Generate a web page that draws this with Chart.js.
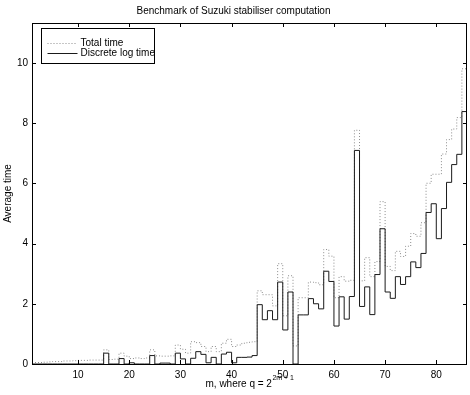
<!DOCTYPE html>
<html>
<head>
<meta charset="utf-8">
<title>Benchmark of Suzuki stabiliser computation</title>
<script src="https://cdn.jsdelivr.net/npm/chart.js@4/dist/chart.umd.min.js"></script>
<style>
    html, body { margin: 0; padding: 0; background: #fff; }
    #benchChart { display: block; }
</style>
</head>
<body>
<canvas id="benchChart" width="470" height="395"></canvas>
<script>
'use strict';

// m values, q = 2^(2m + 1)
var mValues = [];
for (var i = 1; i <= 86; i++) {
    mValues.push(i);
}

// Average total time per m (dotted stairs)
var totalTime = [
    0.05, 0.05, 0.06, 0.07, 0.08, 0.08, 0.10, 0.10, 0.11, 0.12,
    0.12, 0.13, 0.13, 0.13, 0.47, 0.15, 0.16, 0.36, 0.26, 0.18,
    0.20, 0.18, 0.20, 0.47, 0.27, 0.26, 0.26, 0.27, 0.63, 0.49,
    0.36, 0.74, 0.71, 0.58, 0.41, 0.58, 0.41, 0.69, 0.82, 0.58,
    0.63, 0.69, 0.72, 0.74, 2.43, 2.30, 2.30, 1.93, 3.33, 1.60,
    2.93, 0.60, 2.20, 2.20, 2.72, 2.70, 2.63, 3.80, 3.58, 2.20,
    2.90, 2.75, 2.78, 7.76, 2.76, 3.53, 2.90, 3.40, 5.39, 3.24,
    3.10, 3.74, 3.57, 3.91, 4.33, 4.24, 4.69, 6.00, 6.30, 6.30,
    6.97, 7.45, 7.80, 8.18, 9.80, 9.80
];

// Average discrete log time per m (solid stairs)
var discreteLogTime = [
    0, 0, 0, 0, 0, 0, 0, 0, 0, 0,
    0, 0, 0, 0, 0.36, 0, 0, 0.18, 0, 0.04,
    0, 0, 0, 0.28, 0, 0.03, 0.03, 0, 0.36, 0.17,
    0, 0.19, 0.41, 0.32, 0.04, 0.22, 0, 0.33, 0.39, 0.04,
    0.22, 0.22, 0.23, 0.28, 1.97, 1.47, 1.77, 1.47, 2.72, 1.13,
    2.39, 0, 1.63, 1.63, 2.17, 2.00, 1.83, 3.08, 2.74, 1.26,
    2.23, 1.49, 2.24, 7.09, 1.91, 2.56, 1.64, 2.97, 4.49, 2.39,
    2.18, 2.90, 2.64, 2.90, 3.39, 3.20, 3.67, 5.03, 5.32, 4.16,
    5.16, 6.03, 6.62, 6.96, 8.38, 8.38
];

var xTicks = [10, 20, 30, 40, 50, 60, 70, 80];
var yTicks = [0, 2, 4, 6, 8, 10];
var seriesLabels = ['Total time', 'Discrete log time'];

var FONT = '"Liberation Sans", Arial, Helvetica, sans-serif';

/**
 * Chart module
 */
var BenchChart = {

    /**
     * Turn two arrays into {x, y} points
     */
    toPoints: function(xs, ys) {
        return xs.map(function(x, idx) {
            return {x: x, y: ys[idx]};
        });
    },

    /**
     * Box round the plot with inward ticks on all four sides
     */
    boxPlugin: {
        id: 'matlabBox',
        afterDraw: function(chart) {
            var ctx = chart.ctx;
            var a = chart.chartArea;
            var xs = chart.scales.x;
            var ys = chart.scales.y;
            var len = 4;
            ctx.save();
            ctx.strokeStyle = '#000';
            ctx.lineWidth = 1;
            ctx.strokeRect(a.left + 0.5, a.top + 0.5, a.right - a.left - 1, a.bottom - a.top);
            ctx.beginPath();
            xTicks.forEach(function(v) {
                var px = Math.round(xs.getPixelForValue(v)) + 0.5;
                ctx.moveTo(px, a.bottom);
                ctx.lineTo(px, a.bottom - len);
                ctx.moveTo(px, a.top);
                ctx.lineTo(px, a.top + len);
            });
            yTicks.forEach(function(v) {
                var py = Math.round(ys.getPixelForValue(v)) + 0.5;
                ctx.moveTo(a.left, py);
                ctx.lineTo(a.left + len, py);
                ctx.moveTo(a.right, py);
                ctx.lineTo(a.right - len, py);
            });
            ctx.stroke();
            ctx.restore();
        }
    },

    /**
     * Legend box in the top left corner of the plot
     */
    legendPlugin: {
        id: 'boxLegend',
        afterDraw: function(chart) {
            var ctx = chart.ctx;
            var a = chart.chartArea;
            var left = a.left + 9.5;
            var top = a.top + 5.5;
            var sets = chart.data.datasets;
            ctx.save();
            ctx.fillStyle = '#fff';
            ctx.fillRect(left, top, 113, 35);
            ctx.strokeStyle = '#000';
            ctx.lineWidth = 1;
            ctx.strokeRect(left, top, 113, 35);
            ctx.font = '10px ' + FONT;
            ctx.textBaseline = 'middle';
            sets.forEach(function(ds, idx) {
                var y = Math.round(top + 14 + idx * 10) + 0.5;
                ctx.strokeStyle = ds.borderColor;
                ctx.setLineDash(ds.borderDash || []);
                ctx.beginPath();
                ctx.moveTo(left + 6, y);
                ctx.lineTo(left + 36, y);
                ctx.stroke();
                ctx.setLineDash([]);
                ctx.fillStyle = '#000';
                ctx.fillText(ds.label, left + 39, y);
            });
            ctx.restore();
        }
    },

    /**
     * x axis label with the superscript exponent
     */
    xLabelPlugin: {
        id: 'xLabel',
        afterDraw: function(chart) {
            var ctx = chart.ctx;
            var a = chart.chartArea;
            var base = 'm, where q = 2';
            var sup = '2m + 1';
            ctx.save();
            ctx.fillStyle = '#000';
            ctx.textBaseline = 'alphabetic';
            ctx.font = '10px ' + FONT;
            var w1 = ctx.measureText(base).width;
            ctx.font = '7px ' + FONT;
            var w2 = ctx.measureText(sup).width;
            var x0 = (a.left + a.right) / 2 - (w1 + w2) / 2;
            ctx.font = '10px ' + FONT;
            ctx.fillText(base, x0, 387);
            ctx.font = '7px ' + FONT;
            ctx.fillText(sup, x0 + w1 + 0.5, 380);
            ctx.restore();
        }
    },

    /**
     * Build the chart
     */
    init: function() {
        var ctx = document.getElementById('benchChart');
        Chart.defaults.font.family = FONT;
        Chart.defaults.font.size = 10;
        Chart.defaults.color = '#000';

        new Chart(ctx, {
            type: 'line',
            data: {
                datasets: [{
                    label: seriesLabels[0],
                    data: this.toPoints(mValues, totalTime),
                    borderColor: '#8c8c8c',
                    borderWidth: 1,
                    borderDash: [1, 2],
                    stepped: 'before',
                    pointRadius: 0,
                    fill: false,
                    order: 2
                }, {
                    label: seriesLabels[1],
                    data: this.toPoints(mValues, discreteLogTime),
                    borderColor: '#1a1a1a',
                    borderWidth: 1,
                    stepped: 'before',
                    pointRadius: 0,
                    fill: false,
                    order: 1
                }]
            },
            options: {
                responsive: false,
                animation: false,
                devicePixelRatio: 1,
                layout: {
                    padding: {left: 0, right: 3, top: 0, bottom: 0}
                },
                plugins: {
                    legend: {display: false},
                    tooltip: {enabled: false},
                    title: {
                        display: true,
                        text: 'Benchmark of Suzuki stabiliser computation',
                        font: {size: 10, weight: 'normal'},
                        color: '#000',
                        padding: {top: 5, bottom: 6}
                    }
                },
                scales: {
                    x: {
                        type: 'linear',
                        min: 1,
                        max: 86,
                        grid: {display: false, drawTicks: false},
                        border: {display: false},
                        ticks: {padding: 5, maxRotation: 0},
                        afterBuildTicks: function(scale) {
                            scale.ticks = xTicks.map(function(v) { return {value: v}; });
                        },
                        afterFit: function(scale) {
                            scale.height = 31;
                        }
                    },
                    y: {
                        type: 'linear',
                        min: 0,
                        max: 11.32,
                        grid: {display: false, drawTicks: false},
                        border: {display: false},
                        ticks: {padding: 4},
                        afterBuildTicks: function(scale) {
                            scale.ticks = yTicks.map(function(v) { return {value: v}; });
                        },
                        afterFit: function(scale) {
                            scale.width = 32;
                        },
                        title: {
                            display: true,
                            text: 'Average time',
                            font: {size: 10},
                            padding: {top: 2, bottom: 0}
                        }
                    }
                }
            },
            plugins: [this.boxPlugin, this.legendPlugin, this.xLabelPlugin]
        });
    }
};

BenchChart.init();
</script>
</body>
</html>
